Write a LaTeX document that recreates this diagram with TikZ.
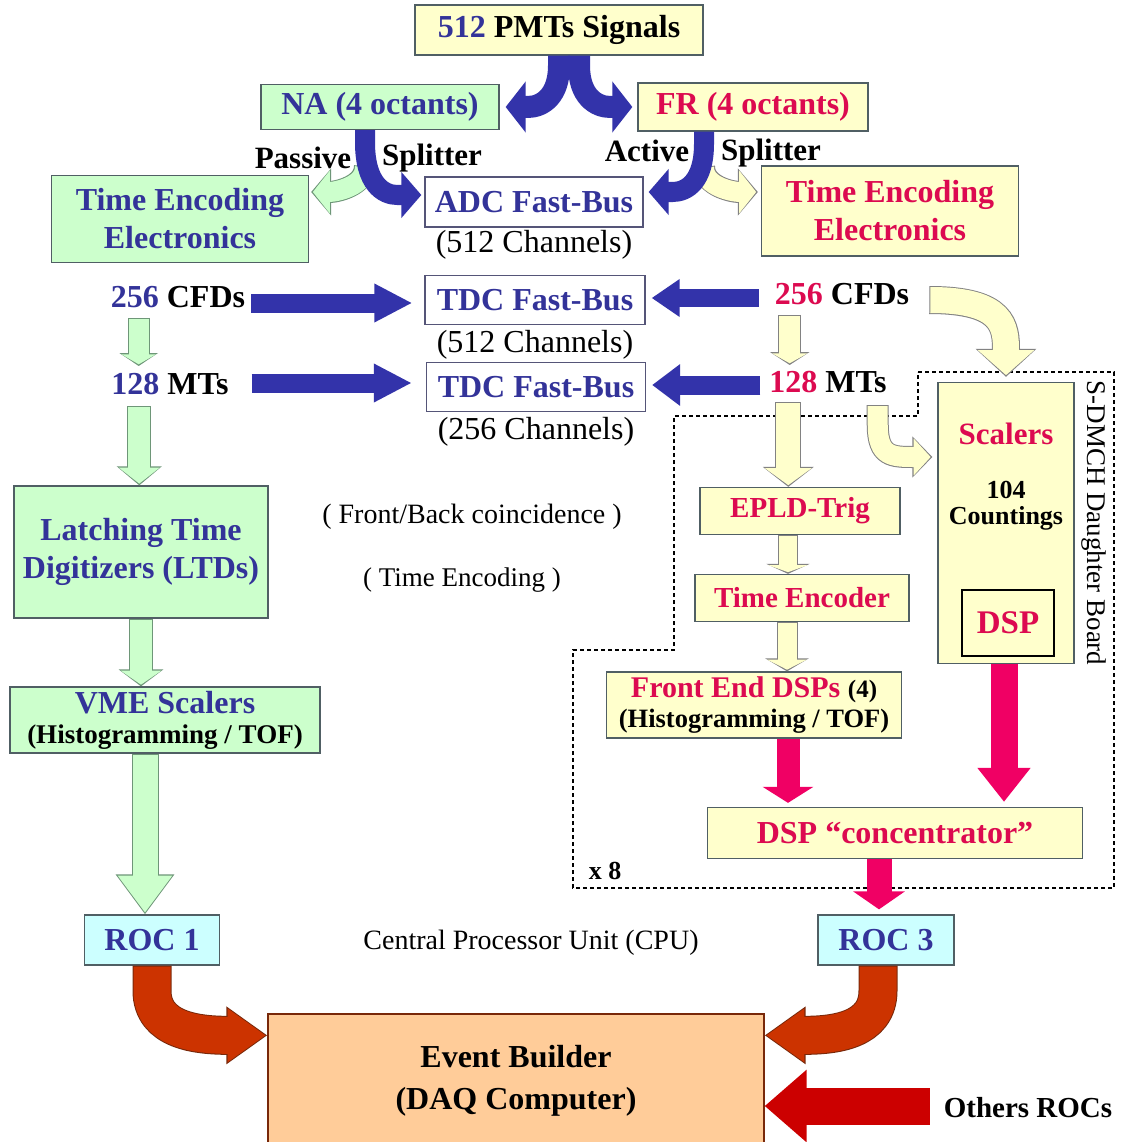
\documentclass[tikz,border=0pt]{standalone}
\usepackage{fontspec}
\setmainfont{Liberation Serif}
\usetikzlibrary{arrows.meta,calc}

\definecolor{txtblue}{RGB}{51,51,153}
\definecolor{txtred}{RGB}{220,10,80}
\definecolor{boxgreen}{RGB}{204,255,204}
\definecolor{boxyellow}{RGB}{255,255,204}
\definecolor{boxcyan}{RGB}{204,255,255}
\definecolor{boxpeach}{RGB}{255,204,153}
\definecolor{edgegray}{RGB}{80,95,100}
\definecolor{edgeblue}{RGB}{85,85,120}
\definecolor{edgegreen}{RGB}{110,150,120}
\definecolor{edgeyellow}{RGB}{130,130,130}
\definecolor{arrblue}{RGB}{51,51,170}
\definecolor{arrpink}{RGB}{240,0,100}
\definecolor{arrbrown}{RGB}{204,51,0}
\definecolor{edgebrown}{RGB}{120,40,10}
\definecolor{arrred}{RGB}{204,0,0}

\newcommand{\fsz}[2]{\fontsize{#1}{#2}\selectfont}

% hollow block arrow: fill, edge, shaft, head width, head length, path
\newcommand{\openarrow}[6]{%
  \pgfmathsetmacro\oaout{#3+2}%
  \pgfmathsetmacro\oawin{#4-4}%
  \pgfmathsetmacro\oalin{#5-3}%
  \draw[draw=#2, line width=\oaout pt, -{Triangle[length=#5pt, width=#4pt]}] #6;
  \draw[draw=#1, line width=#3pt, shorten <=1pt, shorten >=1.7pt, -{Triangle[length=\oalin pt, width=\oawin pt]}] #6;
}

\tikzset{
  box/.style={draw=edgegray, line width=1.3pt, inner sep=0pt, align=center},
  lbl/.style={inner sep=0pt, align=center},
  heavy/.style={font=\fsz{#1}{38}\bfseries},
  heavy/.default=32,
  roman/.style={font=\fsz{#1}{#1}},
  fatarrow/.style n args={4}{draw=#1, line width=#2pt, -{Triangle[length=#4pt, width=#3pt]}},
}

\begin{document}
\begin{tikzpicture}[x=1pt,y=-1pt]
\useasboundingbox (0,0) rectangle (1120,1142);
\fill[white] (0,0) rectangle (1120,1142);

% daughter board region
\draw[line width=2.2pt, dash pattern=on 4pt off 3pt] (918,372) -- (1114,372) -- (1114,888) -- (573,888)
  -- (573,650) -- (674,650) -- (674,416) -- (918,416) -- cycle;

% top
\node[box, fill=boxyellow, minimum width=288pt, minimum height=50pt, heavy] (pmt) at (559,30) {\textcolor{txtblue}{512} PMTs Signals};
\node[box, fill=boxgreen, minimum width=238pt, minimum height=45pt, heavy, text=txtblue] (na) at (380,107) {NA (4 octants)};
\node[box, fill=boxyellow, minimum width=230pt, minimum height=48pt, heavy, text=txtred] (fr) at (753,107) {FR (4 octants)};

\node[lbl, heavy=31] (passive) at (303,158) {Passive};
\node[lbl, heavy=31] (splitL) at (432,158) {Splitter};
\node[lbl, heavy=31] (active) at (647,151) {Active};
\node[lbl, heavy=31] (splitR) at (771,153) {Splitter};

\node[box, fill=boxgreen, minimum width=257pt, minimum height=87pt, heavy, text=txtblue] (teL) at (180,219) {Time Encoding\\Electronics};
\node[box, fill=boxyellow, minimum width=257pt, minimum height=90pt, heavy, text=txtred] (teR) at (890,211) {Time Encoding\\Electronics};

\node[box, draw=edgeblue, fill=white, minimum width=218pt, minimum height=50pt, heavy, text=txtblue] (adc) at (534,202) {ADC Fast-Bus};
\node[lbl, roman=32] (adcch) at (534,245) {(512 Channels)};
\node[box, draw=edgeblue, fill=white, minimum width=220pt, minimum height=49pt, heavy, text=txtblue] (tdcA) at (535,300) {TDC Fast-Bus};
\node[lbl, roman=32] (tdcAch) at (535,345) {(512 Channels)};
\node[box, draw=edgeblue, fill=white, minimum width=219pt, minimum height=49pt, heavy, text=txtblue] (tdcB) at (536,387) {TDC Fast-Bus};
\node[lbl, roman=32] (tdcBch) at (536,432) {(256 Channels)};

\node[lbl, heavy] (cfdL) at (178,297) {\textcolor{txtblue}{256} CFDs};
\node[lbl, heavy] (mtL) at (170,384) {\textcolor{txtblue}{128} MTs};
\node[lbl, heavy] (cfdR) at (842,294) {\textcolor{txtred}{256} CFDs};
\node[lbl, heavy] (mtR) at (828,382) {\textcolor{txtred}{128} MTs};

% left chain
\node[box, fill=boxgreen, minimum width=254pt, minimum height=132pt, heavy, text=txtblue] (ltd) at (141,552) {Latching Time\\Digitizers (LTDs)};
\node[box, fill=boxgreen, minimum width=310pt, minimum height=66pt, font=\fsz{32}{30}\bfseries, text=txtblue] (vme) at (165,720) {VME Scalers\\{\fsz{27}{30}\color{black}(Histogramming / TOF)}};

\node[lbl, roman=28] (coinc) at (472,517) {( Front/Back coincidence )};
\node[lbl, roman=27] (tenc) at (462,580) {( Time Encoding )};

% right chain
\node[box, fill=boxyellow, minimum width=200pt, minimum height=47pt, heavy=29, text=txtred] (epld) at (800,511) {EPLD-Trig};
\node[box, fill=boxyellow, minimum width=214pt, minimum height=47pt, heavy=29, text=txtred] (tenco) at (802,598) {Time Encoder};
\node[box, fill=boxyellow, minimum width=295pt, minimum height=66pt, font=\fsz{30}{30}\bfseries] (fed) at (754,705) {\textcolor{txtred}{Front End DSPs} {\fsz{25}{30}(4)}\\{\fsz{26.5}{30}(Histogramming / TOF)}};
\node[box, fill=boxyellow, minimum width=375pt, minimum height=51pt, heavy, text=txtred] (conc) at (895,833) {DSP “concentrator”};

\node[box, fill=boxyellow, minimum width=136pt, minimum height=281pt] (scal) at (1006,523) {};
\node[lbl, heavy=31, text=txtred] (scalT) at (1006,434) {Scalers};
\node[lbl, font=\fsz{26}{26}\bfseries] (cnt) at (1006,506) {104\\Countings};
\node[box, draw=black, line width=2.5pt, minimum width=92pt, minimum height=66pt, heavy=33, text=txtred] (dsp) at (1008,623) {DSP};
\node[lbl, roman=27, rotate=-90] (board) at (1094,523) {S-DMCH Daughter Board};
\node[lbl, heavy=26] (x8) at (605,871) {x 8};

% bottom
\node[box, fill=boxcyan, minimum width=135pt, minimum height=50pt, heavy, text=txtblue] (roc1) at (152,940) {ROC 1};
\node[box, fill=boxcyan, minimum width=136pt, minimum height=50pt, heavy, text=txtblue] (roc3) at (886,940) {ROC 3};
\node[lbl, roman=28] (cpu) at (531,943) {Central Processor Unit (CPU)};
\node[box, draw=edgebrown, fill=boxpeach, minimum width=496pt, minimum height=134pt, font=\fsz{32}{42}\bfseries] (eb) at (516,1081) {Event Builder\\(DAQ Computer)};
\node[lbl, heavy=29] (others) at (1028,1108) {Others ROCs};

% splitters
\openarrow{boxgreen}{edgegreen}{20}{46}{20}{([xshift=-15pt,yshift=-36pt]na.south) .. controls +(0,20) and +(25,0) .. ([xshift=2pt,yshift=27pt]teL.east)}
\openarrow{boxyellow}{edgeyellow}{20}{46}{20}{([xshift=-49pt,yshift=-35pt]fr.south) .. controls +(0,20) and +(-25,0) .. ([xshift=-3pt,yshift=19pt]teR.west)}
\coordinate (b1) at ([xshift=6pt]na.east);
\coordinate (b2) at ([xshift=-5pt]fr.west);
\coordinate (b3) at ([xshift=-3pt,yshift=7pt]adc.west);
\coordinate (b4) at ([xshift=5pt,yshift=10pt]adc.east);
\draw[fatarrow={arrblue}{22}{50}{20}] ([xshift=0pt]pmt.south) -- ++(0,10) .. controls +(0,30) and +(15,0) .. ($(b1)+(22,0)$) -- (b1);
\draw[fatarrow={arrblue}{22}{50}{20}] ([xshift=20pt]pmt.south) -- ++(0,10) .. controls +(0,30) and +(-15,0) .. ($(b2)+(-22,0)$) -- (b2);
\draw[fatarrow={arrblue}{20}{45}{20}] ([xshift=-15pt]na.south) -- ++(0,12) .. controls +(0,42) and +(-14,0) .. ($(b3)+(-24,0)$) -- (b3);
\draw[fatarrow={arrblue}{20}{45}{20}] ([xshift=-49pt]fr.south) -- ++(0,12) .. controls +(0,38) and +(14,0) .. ($(b4)+(24,0)$) -- (b4);

% to the TDCs
\coordinate (c1) at ([xshift=6pt,yshift=-6pt]cfdL.east);
\coordinate (c2) at ([xshift=23pt,yshift=1pt]mtL.east);
\coordinate (c3) at ([xshift=-16pt,yshift=-4pt]cfdR.west);
\coordinate (c4) at ([xshift=-9pt,yshift=-3pt]mtR.west);
\draw[fatarrow={arrblue}{19}{36}{38}] (c1) -- ($(c1 -| tdcA.west)+(-12,0)$);
\draw[fatarrow={arrblue}{19}{36}{38}] (c2) -- ($(c2 -| tdcB.west)+(-14,0)$);
\draw[fatarrow={arrblue}{18}{36}{28}] (c3) -- ($(c3 -| tdcA.east)+(6,0)$);
\draw[fatarrow={arrblue}{19}{40}{28}] (c4) -- ($(c4 -| tdcB.east)+(6,0)$);

% left chain arrows
\coordinate (g1) at ($(cfdL.south west)+(28,10)$);
\coordinate (g2) at ($(mtL.south west)+(28,11)$);
\coordinate (vr) at ($(roc1.north)+(-7,0)$);
\openarrow{boxgreen}{edgegreen}{20}{38}{13}{(g1) -- ($(g1 |- mtL.north)+(0,-7)$)}
\openarrow{boxgreen}{edgegreen}{22}{44}{19}{(g2) -- (g2 |- ltd.north)}
\openarrow{boxgreen}{edgegreen}{22}{44}{17}{(ltd.south) -- (ltd.south |- vme.north)}
\openarrow{boxgreen}{edgegreen}{25}{56}{40}{(vme.south -| vr) -- (vr)}

% right chain arrows
\coordinate (y1) at ($(cfdR.south west)+(15,10)$);
\coordinate (y2) at ($(mtR.south west)+(19,9)$);
\coordinate (y3) at ($(epld.south)+(-12,0)$);
\coordinate (y4) at ($(tenco.south)+(-15,0)$);
\openarrow{boxyellow}{edgeyellow}{21}{39}{13}{(y1) -- ($(y1 |- mtR.north)+(0,-6)$)}
\openarrow{boxyellow}{edgeyellow}{24}{50}{20}{(y2) -- (y2 |- epld.north)}
\openarrow{boxyellow}{edgeyellow}{18}{43}{10}{(y3) -- (y3 |- tenco.north)}
\openarrow{boxyellow}{edgeyellow}{19}{43}{13}{(y4) -- (y4 |- fed.north)}
\openarrow{boxyellow}{edgeyellow}{26}{59}{28}{([xshift=20pt,yshift=-6pt]cfdR.east) .. controls +(75,0) and +(0,-50) .. ([yshift=5pt]scal.north)}
\openarrow{boxyellow}{edgeyellow}{20}{40}{20}{($(mtR.south east)+(-9,12)$) -- ++(0,20) .. controls +(0,32) and +(-40,0) .. ([xshift=-5pt,yshift=66pt]scal.west)}

% DSP outputs
\coordinate (p1) at ($(fed.south)+(34,0)$);
\coordinate (p2) at ($(scal.south)+(-2,0)$);
\coordinate (p3) at ($(conc.south)+(-16,0)$);
\draw[fatarrow={arrpink}{23}{50}{16}] (p1) -- ($(p1 |- conc.north)+(0,-4)$);
\draw[fatarrow={arrpink}{27}{51}{34}] (p2) -- ($(p2 |- conc.north)+(0,-5)$);
\draw[fatarrow={arrpink}{25}{51}{18}] (p3) -- ($(p3 |- roc3.north)+(0,-5)$);

% into the event builder
\openarrow{arrbrown}{edgebrown}{37}{55}{41}{(roc1.south) -- ++(0,25) .. controls +(0,40) and +(-70,0) .. ([yshift=-22pt]eb.north west)}
\openarrow{arrbrown}{edgebrown}{37}{55}{41}{([xshift=-8pt]roc3.south) -- ++(0,25) .. controls +(0,40) and +(70,0) .. ([yshift=-22pt]eb.north east)}
\coordinate (r1) at ([xshift=-14pt,yshift=2pt]others.west);
\draw[fatarrow={arrred}{37}{70}{42}] (r1) -- (r1 -| eb.east);
\end{tikzpicture}
\end{document}
